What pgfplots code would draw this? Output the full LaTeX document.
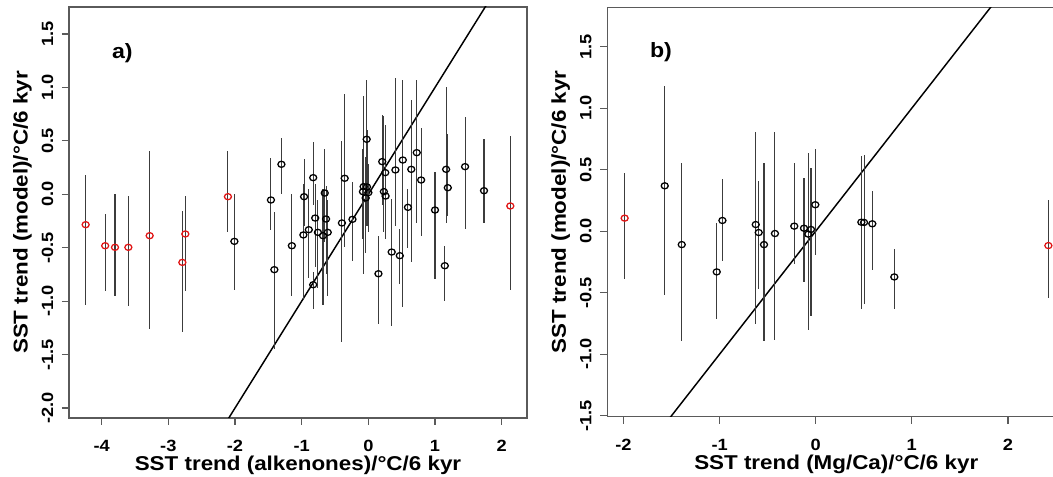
\documentclass[border=0pt]{standalone}
\usepackage{fontspec}
\setmainfont{Liberation Sans}[FakeStretch=1.12]
\usepackage{pgfplots}
\usepackage{pgfplotstable}
\pgfplotsset{compat=1.18}

\definecolor{ptred}{RGB}{225,20,20}
\definecolor{bargray}{RGB}{60,60,60}
\definecolor{frame}{RGB}{90,90,90}

% x y lo hi  (lo/hi = ends of the vertical bars)
\pgfplotstableread{
x y lo hi
-4.24 -0.284 -1.033 0.178
-3.947 -0.481 -0.905 -0.181
-3.80 -0.496 -0.949 0.0
-3.60 -0.496 -1.042 -0.019
-3.28 -0.387 -1.261 0.403
-2.79 -0.637 -1.289 -0.156
-2.745 -0.371 -0.905 -0.019
-2.106 -0.022 -0.356 0.406
2.13 -0.109 -0.896 0.546
}\alkred

\pgfplotstableread{
x y lo hi
-2.009 -0.44 -0.896 0.0
-1.461 -0.053 -0.33 0.34
-1.41 -0.705 -1.45 -0.17
-1.304 0.281 0.0 0.527
-1.147 -0.481 -0.95 0.0
-0.974 -0.38 -0.99 0.1
-0.964 -0.022 -0.3 0.33
-0.893 -0.331 -0.78 0.05
-0.827 0.156 -0.1 0.49
-0.827 -0.846 -1.07 -0.727
-0.797 -0.222 -0.68 0.1
-0.756 -0.356 -0.88 -0.05
-0.68 -0.387 -1.04 0.05
-0.654 0.012 -0.45 0.42
-0.634 -0.231 -0.75 0.08
-0.609 -0.356 -0.95 -0.05
-0.396 -0.268 -1.38 0.5
-0.355 0.15 -0.49 0.94
-0.238 -0.234 -0.62 0.115
-0.081 0.025 -0.42 0.42
-0.071 0.072 -0.75 0.92
-0.04 -0.034 -0.55 0.35
-0.025 0.515 0.1 1.07
-0.02 0.069 -0.3 0.6
0.0 0.016 -0.35 0.28
0.208 0.306 -0.1 0.74
0.233 0.025 -0.35 0.73
0.254 0.203 -0.4 0.65
0.259 -0.016 -0.42 0.45
0.35 -0.54 -1.23 -0.04
0.152 -0.743 -1.21 -0.39
0.406 0.228 -0.3 1.09
0.472 -0.574 -0.84 -0.32
0.517 0.321 -1.05 1.07
0.594 -0.122 -0.5 0.05
0.644 0.234 -0.63 0.88
0.726 0.39 -0.27 1.07
0.792 0.134 -0.39 0.62
1.0 -0.147 -0.79 0.21
1.147 -0.668 -1.0 -0.48
1.167 0.234 -0.27 1.0
1.192 0.062 -0.2 0.56
1.451 0.259 -0.32 0.72
1.735 0.034 -0.27 0.52
}\alkblack

\pgfplotstableread{
x y lo hi
-1.988 0.106 -0.391 0.47
2.421 -0.117 -0.543 0.253
}\mgred

\pgfplotstableread{
x y lo hi
-1.571 0.369 -0.522 1.184
-1.394 -0.109 -0.896 0.551
-1.03 -0.331 -0.712 0.068
-0.971 0.087 -0.242 0.424
-0.624 0.054 -0.758 0.81
-0.593 -0.011 -0.473 0.408
-0.538 -0.109 -0.896 0.551
-0.424 -0.019 -0.888 0.81
-0.223 0.041 -0.264 0.557
-0.122 0.024 -0.413 0.429
-0.077 -0.024 -0.807 0.633
-0.049 0.014 -0.69 0.511
-0.004 0.215 -0.196 0.666
0.475 0.073 -0.63 0.614
0.503 0.071 -0.59 0.62
0.589 0.06 -0.312 0.329
0.818 -0.372 -0.63 -0.147
}\mgblack

\pgfplotsset{
  rpanel/.style={
    scale only axis,
    axis line style={frame, line width=0.9pt},
    tick align=outside,
    tick pos=left,
    major tick length=5.25pt,
    every tick/.style={frame, line width=0.9pt},
    tick label style={font=\fontsize{12.2}{14}\selectfont\bfseries},
    label style={font=\fontsize{15}{18}\selectfont\bfseries},
    xticklabel style={yshift=-8pt},
    yticklabel style={rotate=90, anchor=south, yshift=3pt},
    x label style={at={(axis description cs:0.5,0)}, anchor=center, yshift=-35.5pt},
    % rotated label: yshift moves it to the left
    y label style={at={(axis description cs:0,0.5)}, anchor=center, yshift=35pt},
    clip=true,
  },
  pts/.style={only marks, mark=o, mark size=2.3pt, line width=0.95pt,
    mark options={xscale=1.15},
    error bars/y dir=both, error bars/y explicit, error bars/error mark=none,
    error bars/error bar style={bargray, line width=0.8pt}},
}

\begin{document}
\begin{tikzpicture}
\begin{axis}[rpanel,
  width=343.5pt, height=308.25pt,
  xmin=-4.49, xmax=2.38, ymin=-2.093, ymax=1.753,
  xtick={-4,-3,-2,-1,0,1,2},
  xticklabels={-4,-3,-2,-1,0,1,2},
  ytick={-2,-1.5,-1,-0.5,0,0.5,1,1.5},
  yticklabels={-2.0,-1.5,-1.0,-0.5,0.0,0.5,1.0,1.5},
  xlabel={SST trend (alkenones)/°C/6 kyr},
  ylabel={SST trend (model)/°C/6 kyr},
]
\addplot[black, line width=1.1pt] coordinates {(-3,-3) (3,3)};
\addplot[pts, black] table[x=x, y=y,
  y error plus expr=\thisrow{hi}-\thisrow{y},
  y error minus expr=\thisrow{y}-\thisrow{lo}] {\alkblack};
\addplot[pts, ptred] table[x=x, y=y,
  y error plus expr=\thisrow{hi}-\thisrow{y},
  y error minus expr=\thisrow{y}-\thisrow{lo}] {\alkred};
\node[font=\fontsize{15.5}{18}\selectfont\bfseries] at (axis cs:-3.69,1.32) {a)};
\end{axis}

\begin{axis}[rpanel,
  at={(403.7pt,1pt)}, anchor=south west,
  width=343.5pt, height=307pt,
  xmin=-2.169, xmax=2.597, ymin=-1.508, ymax=1.820,
  xtick={-2,-1,0,1,2},
  xticklabels={-2,-1,0,1,2},
  ytick={-1.5,-1,-0.5,0,0.5,1,1.5},
  yticklabels={-1.5,-1.0,-0.5,0.0,0.5,1.0,1.5},
  xlabel={SST trend (Mg/Ca)/°C/6 kyr},
  ylabel={SST trend (model)/°C/6 kyr},
]
\addplot[black, line width=1.1pt] coordinates {(-3,-3) (3,3)};
\addplot[pts, black] table[x=x, y=y,
  y error plus expr=\thisrow{hi}-\thisrow{y},
  y error minus expr=\thisrow{y}-\thisrow{lo}] {\mgblack};
\addplot[pts, ptred] table[x=x, y=y,
  y error plus expr=\thisrow{hi}-\thisrow{y},
  y error minus expr=\thisrow{y}-\thisrow{lo}] {\mgred};
\node[font=\fontsize{15.5}{18}\selectfont\bfseries] at (axis cs:-1.61,1.453) {b)};
\end{axis}

\pgfresetboundingbox
\path[use as bounding box] (-51.75pt,-44.25pt) rectangle (738pt,313.5pt);
\end{tikzpicture}
\end{document}
